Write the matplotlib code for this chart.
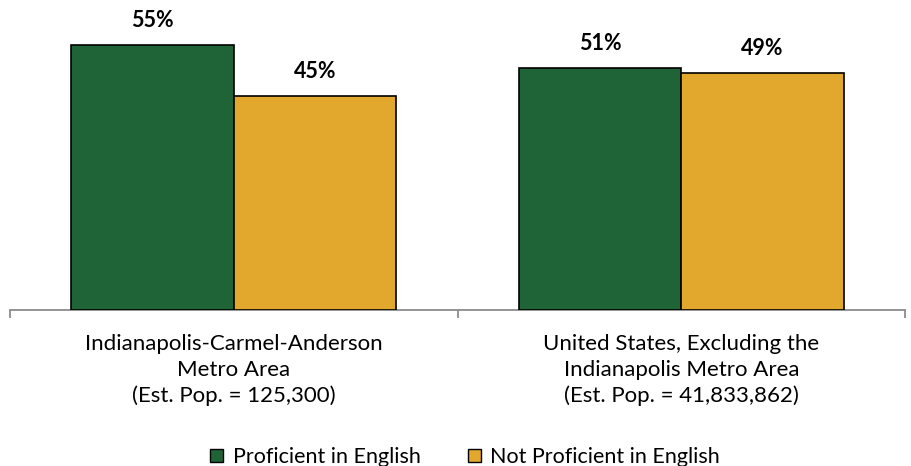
import matplotlib
matplotlib.use("Agg")
import matplotlib.pyplot as plt
from matplotlib.patches import Patch
from matplotlib.transforms import blended_transform_factory, offset_copy
import numpy as np

categories = ["Indianapolis-Carmel-Anderson\nMetro Area\n(Est. Pop. = 125,300)",
              "United States, Excluding the\nIndianapolis Metro Area\n(Est. Pop. = 41,833,862)"]
series_names = ["Proficient in English", "Not Proficient in English"]
proficient = [55.4, 50.6]
not_proficient = [44.6, 49.4]
proficient_labels = ["55%", "51%"]
not_proficient_labels = ["45%", "49%"]

GREEN = "#1F6437"
GOLD = "#E2A82E"
FONT = "Lato"

W, H = 911, 466
fig = plt.figure(figsize=(W / 100, H / 100), dpi=100)
ax = fig.add_axes([10 / W, (H - 310) / H, 895 / W, 290 / H])

x = np.arange(len(categories))
bw = 0.363
b1 = ax.bar(x - bw / 2, proficient, bw, color=GREEN, edgecolor="black", linewidth=1.2, zorder=3)
b2 = ax.bar(x + bw / 2, not_proficient, bw, color=GOLD, edgecolor="black", linewidth=1.2, zorder=3)

for bars, labs in ((b1, proficient_labels), (b2, not_proficient_labels)):
    for rect, lab in zip(bars, labs):
        ax.annotate(lab, (rect.get_x() + rect.get_width() / 2, rect.get_height()),
                    xytext=(0, 10), textcoords="offset points", ha="center", va="bottom",
                    fontsize=15.5, fontweight="bold", family=FONT)

ax.set_xlim(-0.5, 1.5)
ax.set_ylim(0, 290 / 4.79)
for s in ("top", "right", "left"):
    ax.spines[s].set_visible(False)
ax.spines["bottom"].set_color("#8C8C8C")
ax.spines["bottom"].set_linewidth(1.3)
ax.set_yticks([])
ax.set_xticks([-0.5, 0.5, 1.5])
ax.set_xticklabels([])
ax.tick_params(axis="x", direction="out", length=6, width=1.3, color="#8C8C8C")

trans = blended_transform_factory(ax.transData, ax.transAxes)
for xi, cat in zip(x, categories):
    t = offset_copy(trans, fig=fig, x=0, y=-24, units="dots")
    ax.text(xi, 0, cat, transform=t, ha="center", va="top", fontsize=16,
            family=FONT, linespacing=1.36, color="black")

handles = [Patch(facecolor=GREEN, edgecolor="black", linewidth=1.0, label=series_names[0]),
           Patch(facecolor=GOLD, edgecolor="black", linewidth=1.0, label=series_names[1])]
fig.legend(handles=handles, loc="center", bbox_to_anchor=(465 / W, 1 - 457 / H), ncol=2,
           frameon=False, prop={"family": FONT, "size": 15.5}, handlelength=0.6, handleheight=0.6,
           handletextpad=0.45, columnspacing=2.2)

fig.savefig("out.png", dpi=100)
